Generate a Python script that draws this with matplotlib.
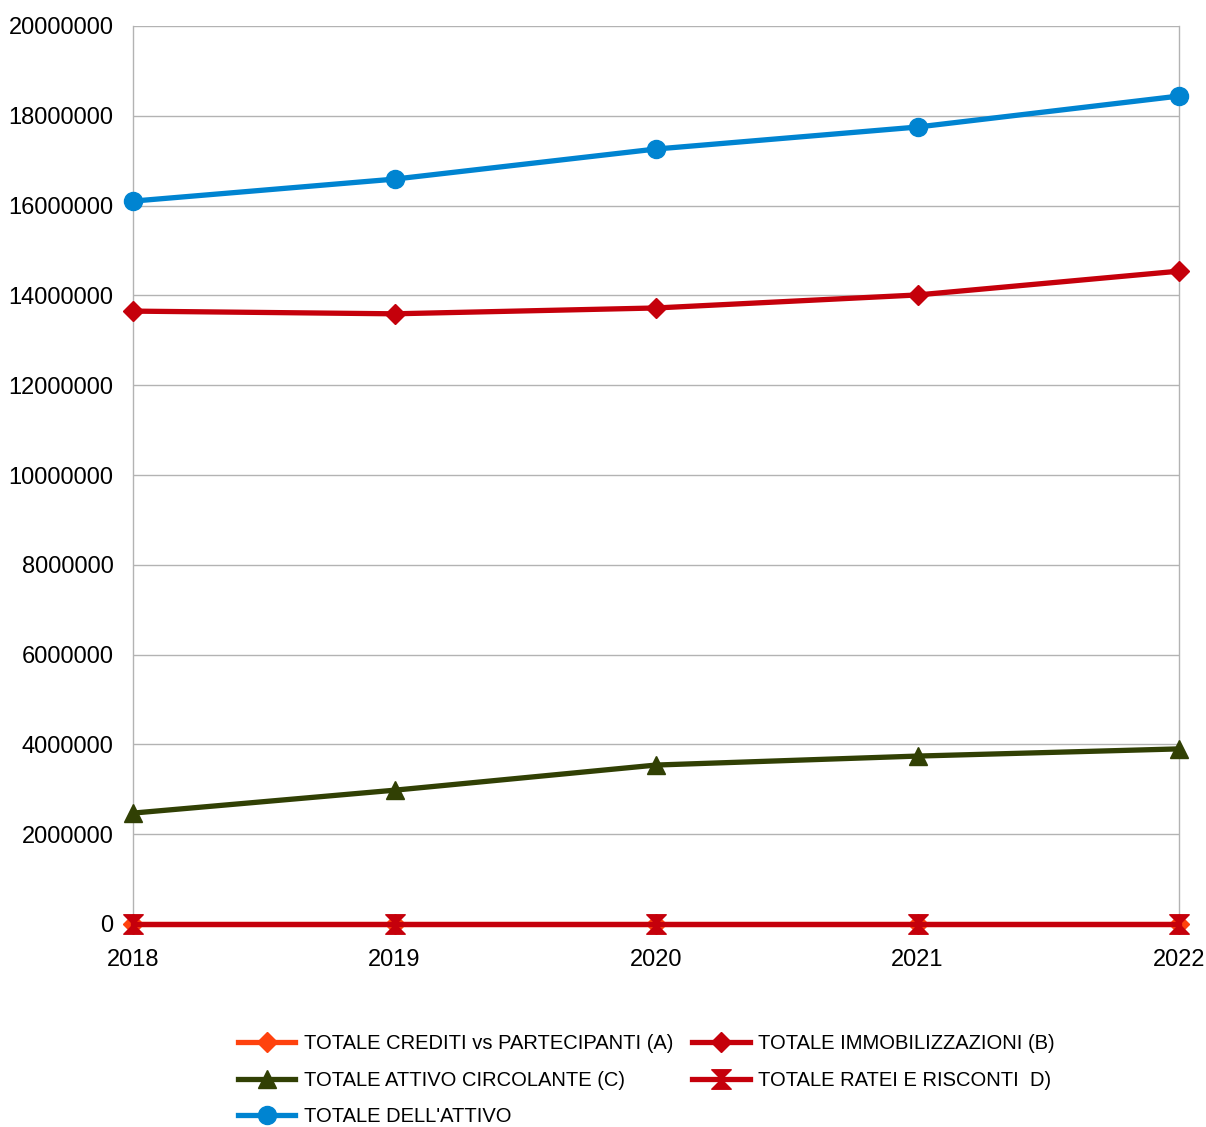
import matplotlib
matplotlib.use("Agg")
import matplotlib.pyplot as plt
from matplotlib.path import Path

years = ["2018", "2019", "2020", "2021", "2022"]
crediti = [0, 0, 0, 0, 0]
immobilizzazioni = [13650000, 13590000, 13720000, 14010000, 14540000]
circolante = [2470000, 2980000, 3540000, 3740000, 3900000]
ratei = [0, 0, 0, 0, 0]
totale = [16100000, 16590000, 17260000, 17750000, 18440000]

labels = ["TOTALE CREDITI vs PARTECIPANTI (A)", "TOTALE IMMOBILIZZAZIONI (B)",
          "TOTALE ATTIVO CIRCOLANTE (C)", "TOTALE RATEI E RISCONTI  D)",
          "TOTALE DELL'ATTIVO"]

plt.rcParams['font.family'] = ['Liberation Sans', 'DejaVu Sans']

hourglass = Path([(-1, 1), (1, 1), (-1, -1), (1, -1), (-1, 1)],
                 [Path.MOVETO, Path.LINETO, Path.LINETO, Path.LINETO, Path.CLOSEPOLY])

fig = plt.figure(figsize=(12.06, 11.27), dpi=100)
ax = fig.add_axes([133 / 1206, 1 - 924 / 1127, (1179 - 133) / 1206, (924 - 26) / 1127])

x = list(range(len(years)))
lw = 3.8
red = "#c5000b"
h_a, = ax.plot(x, crediti, color="#ff420e", lw=lw, marker="D", ms=10, label=labels[0], zorder=3, clip_on=False)
h_b, = ax.plot(x, immobilizzazioni, color=red, lw=lw, marker="D", ms=10, label=labels[1], zorder=3, clip_on=False)
h_c, = ax.plot(x, circolante, color="#314004", lw=lw, marker="^", ms=13, label=labels[2], zorder=3, clip_on=False)
h_d, = ax.plot(x, ratei, color=red, lw=lw, marker=hourglass, ms=14, label=labels[3], zorder=4, clip_on=False)
h_e, = ax.plot(x, totale, color="#0084d1", lw=lw, marker="o", ms=13, label=labels[4], zorder=3, clip_on=False)

ax.set_xlim(0, len(years) - 1)
ax.set_ylim(0, 20000000)
ax.set_yticks(range(0, 20000001, 2000000))
ax.set_yticklabels([str(v) for v in range(0, 20000001, 2000000)])
ax.set_xticks(x)
ax.set_xticklabels(years)
ax.grid(axis='y', color="#b3b3b3", lw=1)
ax.set_axisbelow(True)
for s in ['top', 'bottom']:
    ax.spines[s].set_visible(False)
for s in ['left', 'right']:
    ax.spines[s].set_color("#b3b3b3")
    ax.spines[s].set_linewidth(1)
ax.tick_params(axis='y', length=0, labelsize=17, pad=14)
ax.tick_params(axis='x', length=6, color="#b3b3b3", labelsize=17, pad=12)

# row-major order like the original: A B / C D / E
handles = [h_a, h_c, h_e, h_b, h_d]
fig.legend(handles, [h.get_label() for h in handles], loc='upper left',
           bbox_to_anchor=(238 / 1206, 1 - 1034 / 1127), ncol=2, frameon=False,
           handlelength=2.85, handletextpad=0.41, columnspacing=0.95,
           labelspacing=0.88, borderaxespad=0, borderpad=0,
           prop={'size': 14.5})

fig.savefig("out.png", dpi=100)
